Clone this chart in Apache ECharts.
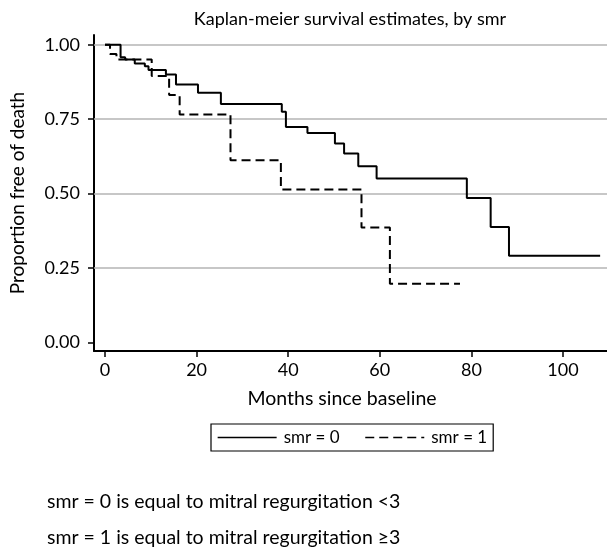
<!DOCTYPE html>
<html>
<head>
<meta charset="utf-8">
<script src="https://cdn.jsdelivr.net/npm/echarts@6/dist/echarts.min.js"></script>
<style>
html,body{margin:0;padding:0;background:#fff;}
#c{width:607px;height:550px;}
</style>
</head>
<body>
<div id="c"></div>
<script>
// smr = 0 (solid) Kaplan-Meier steps: time in months, survival after the event
var times0 = [0, 3.4, 4.4, 6.5, 8.7, 9.5, 13.3, 15.5, 20.3, 25.3, 38.6, 39.5, 44.2, 50.2, 52.2, 55.3, 59.3, 79.0, 84.2, 88.2, 108.1];
var surv0  = [1.0, 0.958, 0.951, 0.937, 0.928, 0.915, 0.900, 0.867, 0.839, 0.801, 0.775, 0.724, 0.704, 0.668, 0.635, 0.592, 0.551, 0.485, 0.388, 0.291, 0.291];
// smr = 1 (dashed)
var times1 = [0, 1.1, 2.5, 10.2, 14.0, 16.3, 27.4, 38.4, 56.0, 62.2, 77.5];
var surv1  = [1.0, 0.969, 0.951, 0.895, 0.831, 0.766, 0.612, 0.514, 0.386, 0.197, 0.197];
var xTicks = [0, 20, 40, 60, 80, 100];
var yTicks = [0, 0.25, 0.5, 0.75, 1.0];
var gridLines = [0.25, 0.5, 0.75, 1.0];
var seriesNames = ['smr = 0', 'smr = 1'];
var titleText = 'Kaplan-meier survival estimates, by smr';
var xName = 'Months since baseline';
var yName = 'Proportion free of death';
var notes = ['smr = 0 is equal to mitral regurgitation <3', 'smr = 1 is equal to mitral regurgitation \u22653'];

function pairs(t, s){ return t.map(function(v,i){ return [v, s[i]]; }); }
var FONT = 'Lato, "Noto Sans", sans-serif';

var chart = echarts.init(document.getElementById('c'), null, {renderer:'canvas'});
chart.setOption({
  animation: false,
  backgroundColor: '#fff',
  grid: {left: 94, right: 0, top: 35, bottom: 199, containLabel: false},
  xAxis: {
    type: 'value', min: -2.4, max: 109.6,
    axisLine: {onZero: false, lineStyle: {color: '#000', width: 2}},
    axisTick: {customValues: xTicks, length: 6, lineStyle: {color: '#000', width: 1.5}},
    axisLabel: {customValues: xTicks, color: '#000', fontSize: 18, fontFamily: FONT, margin: 10},
    splitLine: {show: false}
  },
  yAxis: {
    type: 'value', min: -0.029, max: 1.033,
    axisLine: {onZero: false, lineStyle: {color: '#000', width: 2}},
    axisTick: {customValues: yTicks, length: 6, lineStyle: {color: '#000', width: 1.5}},
    axisLabel: {customValues: yTicks, color: '#000', fontSize: 18, fontFamily: FONT, margin: 14,
      formatter: function(v){ return v.toFixed(2); }},
    splitLine: {show: false}
  },
  legend: {
    left: 211, top: 424,
    padding: [5, 6, 5, 6],
    borderColor: '#000', borderWidth: 1.2, borderRadius: 0,
    itemWidth: 59, itemHeight: 14, itemGap: 25,
    lineStyle: {width: 1.3},
    itemStyle: {opacity: 0},
    textStyle: {color: '#000', fontSize: 17, fontFamily: FONT, padding: [0, 0, 0, 2]},
    data: seriesNames
  },
  series: [
    {
      name: seriesNames[0], type: 'line', step: 'end', symbol: 'none',
      data: pairs(times0, surv0),
      lineStyle: {color: '#000', width: 2, type: 'solid'},
      itemStyle: {color: '#000'},
      markLine: {
        silent: true, symbol: 'none', label: {show: false},
        lineStyle: {color: '#b5b5b5', width: 1.5, type: 'solid'},
        data: gridLines.map(function(v){ return {yAxis: v}; }),
        z: 1
      },
      z: 3
    },
    {
      name: seriesNames[1], type: 'line', step: 'end', symbol: 'none',
      data: pairs(times1, surv1),
      lineStyle: {color: '#000', width: 2, type: [9, 5]},
      itemStyle: {color: '#000'},
      z: 3
    }
  ],
  graphic: [
    {type: 'text', x: 350, y: 19, style: {text: titleText, fill: '#000', font: '18px ' + FONT, textAlign: 'center', textVerticalAlign: 'middle'}},
    {type: 'text', x: 342, y: 399, style: {text: xName, fill: '#000', font: '19.5px ' + FONT, textAlign: 'center', textVerticalAlign: 'middle'}},
    {type: 'text', x: 18, y: 193, rotation: Math.PI/2, style: {text: yName, fill: '#000', font: '19px ' + FONT, textAlign: 'center', textVerticalAlign: 'middle'}},
    {type: 'text', x: 47, y: 502, style: {text: notes[0], fill: '#000', font: '19.5px ' + FONT, textAlign: 'left', textVerticalAlign: 'middle'}},
    {type: 'text', x: 47, y: 538, style: {text: notes[1], fill: '#000', font: '19.5px ' + FONT, textAlign: 'left', textVerticalAlign: 'middle'}}
  ]
});
</script>
</body>
</html>
